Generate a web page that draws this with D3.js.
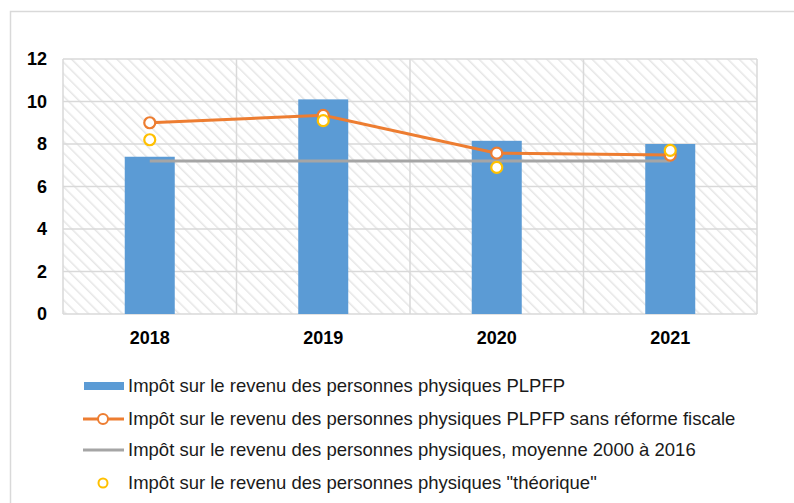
<!DOCTYPE html>
<html>
<head>
<meta charset="utf-8">
<script src="https://cdn.jsdelivr.net/npm/d3@7"></script>
<style>
  body { margin: 0; background: #fff; }
  svg { display: block; font-family: "Liberation Sans", Arial, sans-serif; }
</style>
</head>
<body>
<svg id="chart" width="794" height="503"></svg>
<script>
// data
var years = ["2018", "2019", "2020", "2021"];
var plpfp = [7.4, 10.1, 8.15, 8.0];
var sansReforme = [9.0, 9.35, 7.57, 7.48];
var moyenne = [7.2, 7.2, 7.2, 7.2];
var theorique = [8.2, 9.1, 6.9, 7.7];
var yTicks = [0, 2, 4, 6, 8, 10, 12];
var legendText = [
  "Impôt sur le revenu des personnes physiques PLPFP",
  "Impôt sur le revenu des personnes physiques PLPFP sans réforme fiscale",
  "Impôt sur le revenu des personnes physiques, moyenne 2000 à 2016",
  "Impôt sur le revenu des personnes physiques \"théorique\""
];

var blue = "#5b9bd5", orange = "#ed7d31", gray = "#a5a5a5", yellow = "#ffc000";
var svg = d3.select("#chart");

// outer frame
svg.append("rect")
  .attr("x", 10.5).attr("y", 11.5)
  .attr("width", 800).attr("height", 520)
  .attr("fill", "none").attr("stroke", "#d9d9d9").attr("stroke-width", 1.5);

var pLeft = 63, pRight = 757, pTop = 59, pBottom = 314;

var x = d3.scaleBand().domain(years).range([pLeft, pRight]);
var y = d3.scaleLinear().domain([0, 12]).range([pBottom, pTop]);

// hatch pattern
var defs = svg.append("defs");
var pat = defs.append("pattern")
  .attr("id", "hatch")
  .attr("patternUnits", "userSpaceOnUse")
  .attr("width", 8).attr("height", 8)
  .attr("patternTransform", "rotate(-45)");
pat.append("line")
  .attr("x1", 0).attr("y1", 0).attr("x2", 0).attr("y2", 8)
  .attr("stroke", "#e6e6e6").attr("stroke-width", 3);

svg.append("rect")
  .attr("x", pLeft).attr("y", pTop)
  .attr("width", pRight - pLeft).attr("height", pBottom - pTop)
  .attr("fill", "url(#hatch)");

// grid
svg.append("g").selectAll("line")
  .data(yTicks)
  .enter().append("line")
  .attr("x1", pLeft).attr("x2", pRight)
  .attr("y1", function(d) { return y(d); })
  .attr("y2", function(d) { return y(d); })
  .attr("stroke", "#d9d9d9").attr("stroke-width", 1.5);

var bounds = years.map(function(d) { return x(d); }).concat([pRight]);
svg.append("g").selectAll("line")
  .data(bounds)
  .enter().append("line")
  .attr("x1", function(d) { return d; }).attr("x2", function(d) { return d; })
  .attr("y1", pTop).attr("y2", pBottom)
  .attr("stroke", "#d9d9d9").attr("stroke-width", 1.5);

// y labels
svg.append("g").selectAll("text")
  .data(yTicks)
  .enter().append("text")
  .attr("x", 47)
  .attr("y", function(d) { return y(d); })
  .attr("dy", "0.35em")
  .attr("text-anchor", "end")
  .attr("font-size", 18).attr("font-weight", "bold")
  .attr("fill", "#000")
  .text(function(d) { return d; });

// x labels
svg.append("g").selectAll("text")
  .data(years)
  .enter().append("text")
  .attr("x", function(d) { return x(d) + x.bandwidth() / 2; })
  .attr("y", 343.5)
  .attr("text-anchor", "middle")
  .attr("font-size", 18).attr("font-weight", "bold")
  .attr("fill", "#000")
  .text(function(d) { return d; });

// bars
var bw = 50;
svg.append("g").selectAll("rect")
  .data(plpfp)
  .enter().append("rect")
  .attr("x", function(d, i) { return x(years[i]) + x.bandwidth() / 2 - bw / 2; })
  .attr("y", function(d) { return y(d); })
  .attr("width", bw)
  .attr("height", function(d) { return pBottom - y(d); })
  .attr("fill", blue);

var cx = function(d, i) { return x(years[i]) + x.bandwidth() / 2; };
var line = d3.line().x(cx).y(function(d) { return y(d); });

// average line
svg.append("path").datum(moyenne)
  .attr("d", line)
  .attr("fill", "none").attr("stroke", gray).attr("stroke-width", 3);

// orange line
svg.append("path").datum(sansReforme)
  .attr("d", line)
  .attr("fill", "none").attr("stroke", orange).attr("stroke-width", 3);
svg.append("g").selectAll("circle")
  .data(sansReforme)
  .enter().append("circle")
  .attr("cx", cx).attr("cy", function(d) { return y(d); })
  .attr("r", 5.5)
  .attr("fill", "#fff").attr("stroke", orange).attr("stroke-width", 2.2);

// theorique points
svg.append("g").selectAll("circle")
  .data(theorique)
  .enter().append("circle")
  .attr("cx", cx).attr("cy", function(d) { return y(d); })
  .attr("r", 5.5)
  .attr("fill", "#fff").attr("stroke", yellow).attr("stroke-width", 2.2);

// legend
var ly = [386, 419, 450, 483];
var lg = svg.append("g");
lg.append("rect").attr("x", 84).attr("y", ly[0] - 4).attr("width", 40).attr("height", 8).attr("fill", blue);
lg.append("line").attr("x1", 83).attr("x2", 124).attr("y1", ly[1]).attr("y2", ly[1])
  .attr("stroke", orange).attr("stroke-width", 3);
lg.append("circle").attr("cx", 103).attr("cy", ly[1]).attr("r", 5)
  .attr("fill", "#fff").attr("stroke", orange).attr("stroke-width", 2);
lg.append("line").attr("x1", 83).attr("x2", 124).attr("y1", ly[2]).attr("y2", ly[2])
  .attr("stroke", gray).attr("stroke-width", 3);
lg.append("circle").attr("cx", 103).attr("cy", ly[3]).attr("r", 4.5)
  .attr("fill", "#fff").attr("stroke", yellow).attr("stroke-width", 2);

lg.selectAll("text")
  .data(legendText)
  .enter().append("text")
  .attr("x", 128)
  .attr("y", function(d, i) { return ly[i]; })
  .attr("dy", "0.35em")
  .attr("font-size", 18.5)
  .attr("fill", "#1a1a1a")
  .text(function(d) { return d; });
</script>
</body>
</html>
